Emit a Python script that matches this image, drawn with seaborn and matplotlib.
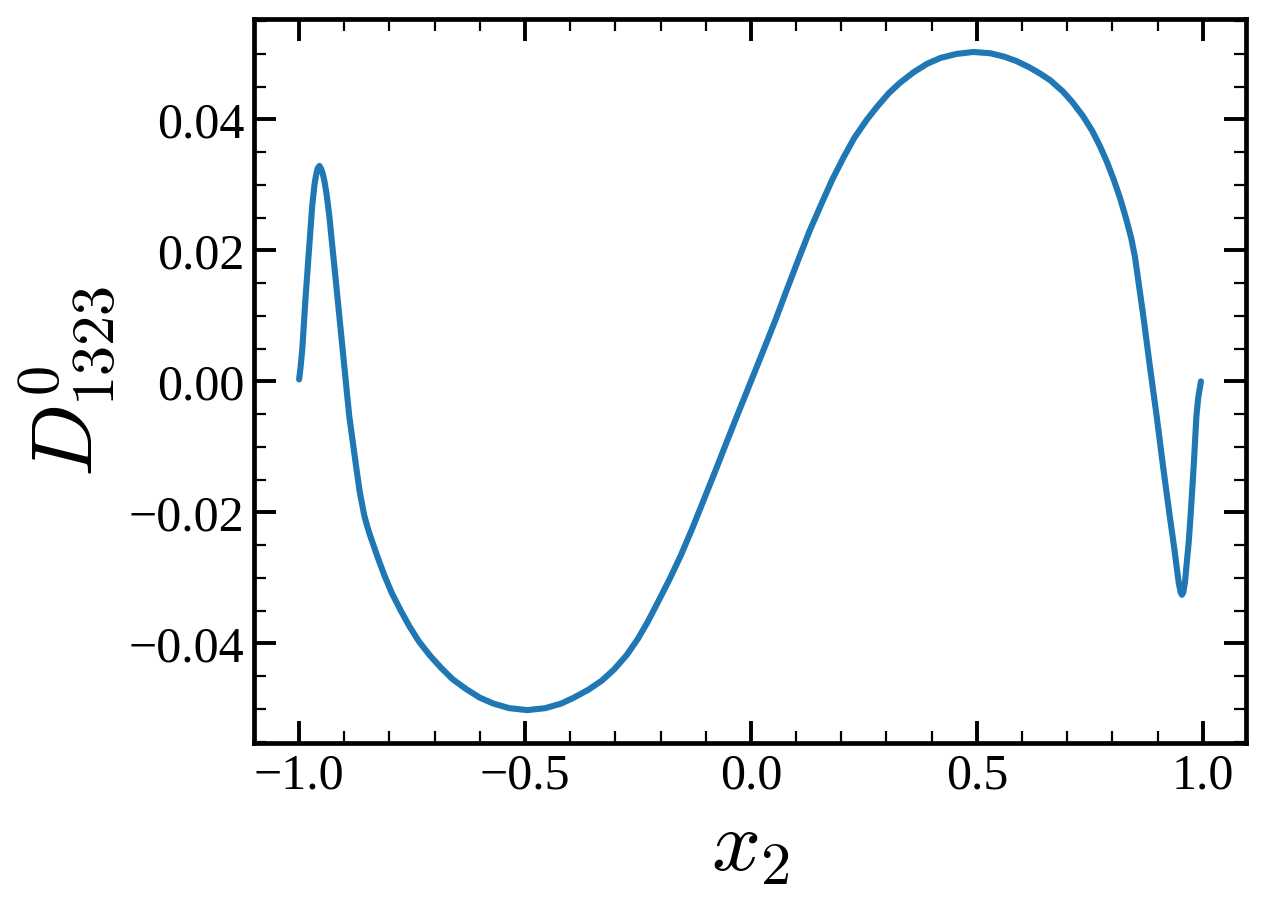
import numpy as np
import pandas as pd
import matplotlib
matplotlib.use("Agg")
import matplotlib.pyplot as plt
from matplotlib.ticker import MultipleLocator
import seaborn as sns

# values
x2 = [-1.000, -0.997, -0.993, -0.986, -0.978, -0.971, -0.966, -0.963, -0.959,
      -0.955, -0.951, -0.948, -0.944, -0.939, -0.933, -0.928, -0.922, -0.911,
      -0.900, -0.889, -0.874, -0.866, -0.856, -0.849, -0.842, -0.828, -0.812, -0.795,
      -0.775, -0.755, -0.735, -0.710, -0.685, -0.660, -0.630, -0.600, -0.570,
      -0.535, -0.495, -0.455, -0.420, -0.392, -0.360, -0.330, -0.303, -0.275,
      -0.250, -0.229, -0.205, -0.180, -0.156, -0.130, -0.105, -0.080, -0.055,
      -0.028, 0.000, 0.028, 0.055, 0.080, 0.105, 0.130, 0.156, 0.180,
      0.205, 0.229, 0.257, 0.280, 0.305, 0.330, 0.360, 0.390, 0.420,
      0.455, 0.492, 0.530, 0.560, 0.588, 0.615, 0.640, 0.662, 0.690,
      0.712, 0.735, 0.755, 0.772, 0.788, 0.802, 0.817, 0.831, 0.842, 0.850,
      0.868, 0.883, 0.898, 0.912, 0.927, 0.937, 0.942, 0.947, 0.951,
      0.954, 0.957, 0.961, 0.964, 0.969, 0.973, 0.980, 0.986, 0.990, 0.996]
d1323 = [0.0003, 0.0020, 0.0049, 0.0125, 0.0202, 0.0268, 0.0300, 0.0313, 0.0325,
         0.0329, 0.0324, 0.0318, 0.0306, 0.0285, 0.0252, 0.0217, 0.0176, 0.0100,
         0.0023, -0.0053, -0.0129, -0.0168, -0.0204, -0.0222, -0.0237, -0.0265, -0.0295, -0.0323,
         -0.0350, -0.0375, -0.0397, -0.0419, -0.0438, -0.0455, -0.0470, -0.0483, -0.0492,
         -0.0499, -0.0502, -0.0499, -0.0492, -0.0483, -0.0471, -0.0457, -0.0440, -0.0418,
         -0.0393, -0.0368, -0.0336, -0.0302, -0.0267, -0.0225, -0.0182, -0.0139, -0.0095,
         -0.0048, 0.0000, 0.0048, 0.0095, 0.0141, 0.0186, 0.0230, 0.0271, 0.0308,
         0.0342, 0.0372, 0.0400, 0.0420, 0.0440, 0.0456, 0.0472, 0.0485, 0.0494,
         0.0500, 0.0503, 0.0501, 0.0496, 0.0489, 0.0480, 0.0470, 0.0460, 0.0443,
         0.0426, 0.0405, 0.0383, 0.0360, 0.0335, 0.0310, 0.0280, 0.0247, 0.0218, 0.0190,
         0.0102, 0.0023, -0.0053, -0.0129, -0.0206, -0.0255, -0.0282, -0.0308, -0.0322,
         -0.0326, -0.0322, -0.0305, -0.0282, -0.0245, -0.0206, -0.0129, -0.0053, -0.0025, 0.0000]

df = pd.DataFrame({'x2': x2, 'D': d1323})

sns.set_style("ticks")
plt.rcParams['font.family'] = ['Liberation Serif', 'DejaVu Serif']
plt.rcParams['mathtext.fontset'] = 'cm'
plt.rcParams['text.color'] = 'black'
plt.rcParams['axes.labelcolor'] = 'black'

fig = plt.figure(figsize=(6.325, 4.54), dpi=200)
ax = fig.add_axes([0.2008, 0.1817, 0.7842, 0.7973])

sns.lineplot(data=df, x='x2', y='D', color='#1f77b4', linewidth=2.2, ax=ax, sort=False)

ax.set_xlabel(r'$x_2$', fontsize=31, color='black')
ax.set_ylabel(r'$D^0_{1323}$', fontsize=31, color='black')

ax.xaxis.set_major_locator(MultipleLocator(0.5))
ax.xaxis.set_minor_locator(MultipleLocator(0.1))
ax.yaxis.set_major_locator(MultipleLocator(0.02))
ax.yaxis.set_minor_locator(MultipleLocator(0.005))

ax.tick_params(which='both', direction='in', top=True, right=True, labelsize=18, colors='black')
ax.tick_params(which='major', length=8, width=1.4)
ax.tick_params(which='minor', length=4.2, width=0.8)
for s in ax.spines.values():
    s.set_linewidth(1.7)
    s.set_color('black')

fig.savefig('out.png', dpi=200)
